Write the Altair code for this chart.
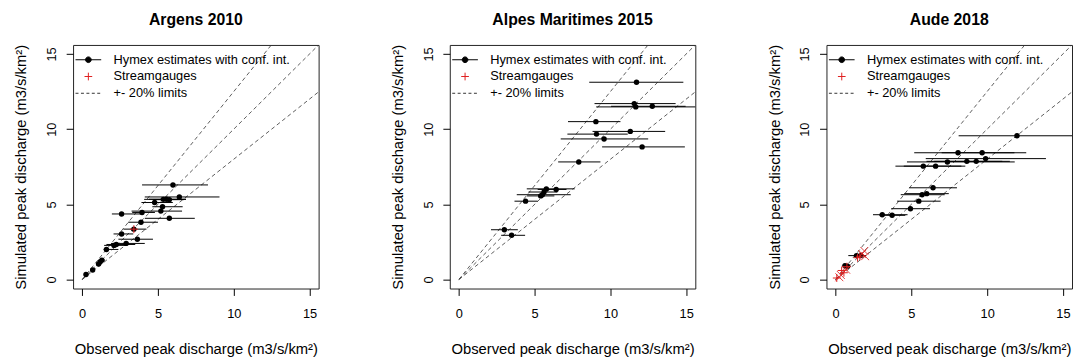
import altair as alt
import pandas as pd

FONT = "Liberation Sans"
AX_MIN, AX_MAX = -0.6, 15.6
TICKS = [0, 5, 10, 15]
SLOPES = [0.8, 1.0, 1.25]
LINE_X = [0.0, 17.0]
LEG_LABELS = ["Hymex estimates with conf. int.", "Streamgauges", "+- 20% limits"]
X_TITLE = "Observed peak discharge (m3/s/km²)"
Y_TITLE = "Simulated peak discharge (m3/s/km²)"

# ---------------- Argens 2010 ----------------
arg_obs = [5.99, 6.41, 5.35, 5.55, 5.75, 4.78, 5.30, 5.19, 3.95, 2.60, 5.75, 3.88,
           3.41, 2.60, 3.64, 2.90, 2.25, 2.10, 1.60, 1.30, 1.19, 1.08, 0.69, 0.25]
arg_sim = [6.29, 5.49, 5.33, 5.34, 5.31, 5.12, 4.84, 4.55, 4.46, 4.36, 4.07, 3.81,
           3.35, 3.03, 2.68, 2.40, 2.33, 2.27, 2.00, 1.29, 1.18, 1.03, 0.63, 0.33]
arg_lo = [3.95, 4.13, 4.09, 4.40, 4.70, 3.91, 4.63, 3.26, 3.30, 1.96, 4.13, 3.04,
          2.72, 2.07, 2.39, 1.90, 1.60, 1.45, 1.41, 1.15, 1.05, 0.95, 0.58, 0.20]
arg_hi = [8.30, 9.06, 6.85, 6.85, 6.70, 5.98, 6.63, 6.59, 4.80, 3.91, 7.43, 5.00,
          4.24, 3.37, 4.67, 4.13, 3.50, 2.90, 2.39, 1.50, 1.40, 1.25, 0.80, 0.32]
arg_plus_x = [3.41]
arg_plus_y = [3.35]
arg_x_x = []
arg_x_y = []

# ---------------- Alpes Maritimes 2015 ----------------
alp_obs = [11.72, 11.57, 11.67, 12.76, 9.04, 11.31, 9.08, 9.58, 12.09, 7.91,
           5.77, 6.42, 5.62, 5.51, 5.40, 4.40, 3.00, 3.48]
alp_sim = [13.12, 11.70, 11.48, 11.52, 10.50, 9.85, 9.67, 9.35, 8.82, 7.82,
           6.03, 5.99, 5.82, 5.64, 5.56, 5.21, 3.31, 2.94]
alp_lo = [8.60, 8.95, 9.06, 10.04, 7.20, 8.82, 7.16, 6.72, 9.45, 6.55,
          4.48, 5.20, 4.60, 3.82, 4.50, 3.67, 2.12, 2.79]
alp_hi = [14.81, 14.30, 16.50, 14.96, 10.66, 13.61, 11.14, 12.49, 14.91, 9.34,
          7.64, 7.10, 6.50, 7.38, 6.30, 5.20, 3.89, 4.37]
alp_plus_x = []
alp_plus_y = []
alp_x_x = []
alp_x_y = []

# ---------------- Aude 2018 ----------------
aud_obs = [11.97, 8.08, 9.67, 9.90, 7.38, 8.66, 9.28, 5.79, 6.60, 6.43,
           6.01, 5.71, 5.49, 4.94, 3.08, 3.73, 1.38, 1.66, 0.62, 0.79]
aud_sim = [9.56, 8.43, 8.43, 8.04, 7.82, 7.86, 7.86, 7.54, 7.54, 6.10,
           5.71, 5.64, 5.21, 4.71, 4.31, 4.27, 1.59, 1.59, 0.92, 0.88]
aud_lo = [8.12, 5.19, 7.00, 5.95, 4.71, 6.00, 6.50, 3.95, 4.50, 4.86,
          4.53, 4.30, 4.06, 3.67, 2.47, 2.90, 0.84, 1.30, 0.45, 0.60]
aud_hi = [16.50, 12.58, 11.80, 13.88, 11.82, 11.00, 11.50, 8.56, 8.30, 8.01,
          7.47, 7.20, 6.93, 6.23, 4.75, 4.60, 2.03, 2.00, 0.85, 1.00]
aud_plus_x = [0.08, 0.40, 0.55, 1.60, 0.75, 1.45]
aud_plus_y = [0.10, 0.60, 0.45, 1.55, 0.85, 1.45]
aud_x_x = [0.35, 0.70, 1.90, 1.75, 0.25, 1.95]
aud_x_y = [0.30, 0.65, 1.90, 1.70, 0.15, 1.55]

PLUS = "M-1,0L1,0M0,-1L0,1"
XSHAPE = "M-1,-1L1,1M-1,1L1,-1"
# legend symbols (unit = 6 px with symbolSize 144)
LEG_SHAPES = [
    "M-2.17,0L2.17,0M-0.48,0A0.48,0.48,0,1,1,0.48,0A0.48,0.48,0,1,1,-0.48,0Z",
    "M-0.65,0L0.65,0M0,-0.65L0,0.65",
    "M-2.17,0L-1.67,0M-1.25,0L-0.75,0M-0.33,0L0.17,0M0.58,0L1.08,0M1.5,0L2,0",
]
LEG_FILL = ["black", "transparent", "transparent"]
LEG_STROKE = ["black", "#e02020", "#333333"]
RED = "#e02020"

PW, PH = 249, 247


def xenc(field):
    return alt.X(field, type="quantitative",
                 scale=alt.Scale(domain=[AX_MIN, AX_MAX], nice=False, zero=False),
                 axis=alt.Axis(values=TICKS, title=X_TITLE, format="d"))


def yenc(field):
    return alt.Y(field, type="quantitative",
                 scale=alt.Scale(domain=[AX_MIN, AX_MAX], nice=False, zero=False),
                 axis=alt.Axis(values=TICKS, title=Y_TITLE, format="d",
                               labelAngle=-90, labelAlign="center", labelBaseline="bottom"))


def panel(title, obs, sim, lo, hi, px, py, xx, xy):
    df = pd.DataFrame({"obs": obs, "sim": sim, "lo": lo, "hi": hi})
    lines = pd.DataFrame([{"slope": s, "lx": x} for s in SLOPES for x in LINE_X])
    ref = alt.Chart(lines).transform_calculate(ly="datum.slope * datum.lx").mark_line(
        clip=True, color="#333333", strokeWidth=0.8, strokeDash=[4, 3]
    ).encode(x=xenc("lx"), y=yenc("ly"), detail="slope:N")
    ci = alt.Chart(df).mark_rule(clip=True, color="black", strokeWidth=1).encode(
        x=xenc("lo"), x2="hi", y=yenc("sim"))
    pts = alt.Chart(df).mark_circle(size=30, color="black", opacity=1).encode(
        x=xenc("obs"), y=yenc("sim"))
    layers = [ref, ci, pts]
    if px:
        dfp = pd.DataFrame({"gx": px, "gy": py})
        layers.append(alt.Chart(dfp).mark_point(shape=PLUS, size=64, color=RED, filled=False,
                                                opacity=1, strokeWidth=1).encode(
            x=xenc("gx"), y=yenc("gy")))
    if xx:
        dfx = pd.DataFrame({"gx": xx, "gy": xy})
        layers.append(alt.Chart(dfx).mark_point(shape=XSHAPE, size=64, color=RED, filled=False,
                                                opacity=0.85, strokeWidth=1).encode(
            x=xenc("gx"), y=yenc("gy")))
    leg = alt.Legend(title=None, orient="none", legendX=9, legendY=8.5, padding=0,
                     labelFont=FONT, labelFontSize=13, labelColor="black", labelLimit=0,
                     symbolSize=144, symbolStrokeWidth=1, labelOffset=19, rowPadding=3)
    legdf = pd.DataFrame({"series": LEG_LABELS})
    legend_layer = alt.Chart(legdf).transform_filter("false").mark_point(
        opacity=1, strokeWidth=1).encode(
        x=xenc("lx"), y=yenc("ly"),
        shape=alt.Shape("series:N", scale=alt.Scale(domain=LEG_LABELS, range=LEG_SHAPES), legend=leg),
        fill=alt.Fill("series:N", scale=alt.Scale(domain=LEG_LABELS, range=LEG_FILL), legend=leg),
        stroke=alt.Stroke("series:N", scale=alt.Scale(domain=LEG_LABELS, range=LEG_STROKE), legend=leg),
    )
    layers.append(legend_layer)
    return alt.layer(*layers).properties(width=PW, height=PH, title=title)


p1 = panel("Argens 2010", arg_obs, arg_sim, arg_lo, arg_hi, arg_plus_x, arg_plus_y, arg_x_x, arg_x_y)
p2 = panel("Alpes Maritimes 2015", alp_obs, alp_sim, alp_lo, alp_hi, alp_plus_x, alp_plus_y, alp_x_x, alp_x_y)
p3 = panel("Aude 2018", aud_obs, aud_sim, aud_lo, aud_hi, aud_plus_x, aud_plus_y, aud_x_x, aud_x_y)

chart = alt.hconcat(p1, p2, p3, spacing=71).resolve_scale(
    shape="independent", fill="independent", stroke="independent"
).resolve_legend(
    shape="independent", fill="independent", stroke="independent"
).properties(
    padding={"left": 5, "top": 0, "right": 0, "bottom": 0}, background="white"
).configure_view(stroke="#222222", strokeWidth=1).configure_axis(
    domain=False, grid=False, tickColor="black", tickSize=7, tickWidth=1,
    labelFont=FONT, labelFontSize=13, labelColor="black",
    titleFont=FONT, titleFontSize=15, titleFontWeight="normal", titleColor="black",
).configure_axisX(labelPadding=12, titlePadding=22).configure_axisY(
    labelPadding=8, titlePadding=17
).configure_title(font=FONT, fontSize=16, fontWeight="bold", color="black", offset=17,
                  anchor="middle")

chart.save("out.html", embed_options={"renderer": "svg", "actions": False})
